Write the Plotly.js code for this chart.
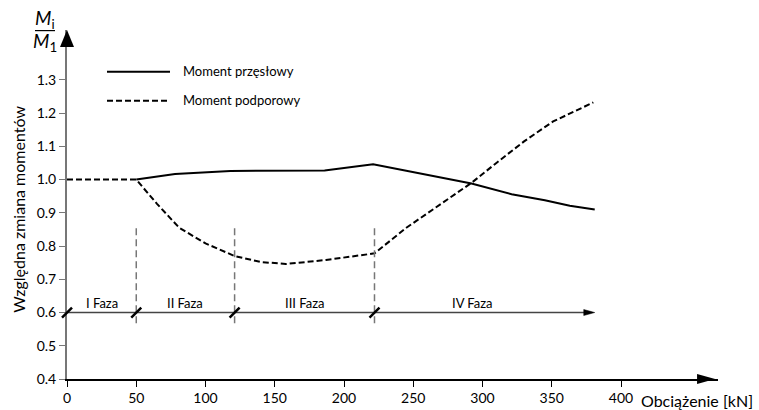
<!DOCTYPE html>
<html>
<head>
<meta charset="utf-8">
<script src="https://cdn.plot.ly/plotly-3.0.1.min.js"></script>
<style>html,body{margin:0;padding:0;background:#fff;}#chart{width:759px;height:410px;}</style>
</head>
<body>
<div id="chart"></div>
<script>
// Data
var spanX = [50, 78, 118, 186, 221, 260, 292, 321, 345, 363, 381];
var spanY = [1.0, 1.017, 1.026, 1.027, 1.046, 1.015, 0.988, 0.956, 0.938, 0.921, 0.910];
var supportX = [0, 50, 65, 81, 100, 121, 140, 158, 187, 222, 245, 270, 292, 310, 330, 351, 366, 380];
var supportY = [1.0, 1.0, 0.927, 0.855, 0.808, 0.770, 0.752, 0.746, 0.758, 0.778, 0.855, 0.927, 0.99, 1.05, 1.115, 1.175, 1.205, 1.232];
var seriesNames = ["Moment przęsłowy", "Moment podporowy"];
var phaseBounds = [0, 50, 121, 222, 381];
var phaseLabels = ["I Faza", "II Faza", "III Faza", "IV Faza"];
var phaseLevel = 0.6;
var xTicks = [0, 50, 100, 150, 200, 250, 300, 350, 400];
var yTicks = [0.4, 0.5, 0.6, 0.7, 0.8, 0.9, 1.0, 1.1, 1.2, 1.3];
var xTitle = "Obciążenie [kN]";
var yTitle = "Względna zmiana momentów";

var FONT = "Lato, Roboto, sans-serif";
var GREY = "#777777";

var traces = [
  {x: spanX, y: spanY, mode: "lines", name: seriesNames[0],
   line: {color: "#000", width: 2}, hoverinfo: "skip"},
  {x: supportX, y: supportY, mode: "lines", name: seriesNames[1],
   line: {color: "#000", width: 2, dash: "6px,3px"}, hoverinfo: "skip"}
];

var shapes = [];
var annotations = [];

// phase boundary dashed verticals
phaseBounds.slice(1, 4).forEach(function (b) {
  shapes.push({type: "line", xref: "x", yref: "y", x0: b, x1: b, y0: 0.568, y1: 0.855,
    line: {color: GREY, width: 1.5, dash: "7px,4px"}});
});
// phase line
shapes.push({type: "line", xref: "x", yref: "y", x0: phaseBounds[0], x1: phaseBounds[4] - 3,
  y0: phaseLevel, y1: phaseLevel, line: {color: "#444", width: 1.5}});
// phase line arrow
shapes.push({type: "path", xref: "x", yref: "y", xsizemode: "pixel", ysizemode: "pixel",
  xanchor: phaseBounds[4], yanchor: phaseLevel, path: "M 0 0 L -11 3 L -11 -3 Z",
  fillcolor: "#000", line: {color: "#000", width: 0.5}});
// slashes
phaseBounds.slice(0, 4).forEach(function (b, i) {
  shapes.push({type: "line", xref: i === 0 ? "paper" : "x", yref: "y", xsizemode: "pixel", ysizemode: "pixel",
    xanchor: i === 0 ? 0 : b, yanchor: phaseLevel, x0: -5, x1: 5, y0: -5, y1: 5,
    line: {color: "#000", width: 2.5}});
});
// phase labels
phaseLabels.forEach(function (t, i) {
  var c = (phaseBounds[i] + phaseBounds[i + 1]) / 2;
  if (i === 3) c = 293;
  annotations.push({x: c, y: phaseLevel, xref: "x", yref: "y", text: t, showarrow: false,
    yanchor: "bottom", yshift: 0, font: {family: FONT, size: 13, color: "#000"}});
});

// axis arrows
shapes.push({type: "path", xref: "paper", yref: "paper", xsizemode: "pixel", ysizemode: "pixel",
  xanchor: 0, yanchor: 1, path: "M 0 0 L -7 -17 L 7 -17 Z", fillcolor: "#000", line: {width: 0}});
shapes.push({type: "path", xref: "paper", yref: "paper", xsizemode: "pixel", ysizemode: "pixel",
  xanchor: 0.9955, yanchor: 0, path: "M 0 0 L -18 5 L -18 -5 Z", fillcolor: "#000", line: {width: 0}});

// legend (manual)
shapes.push({type: "line", xref: "paper", yref: "paper", x0: (107 - 67) / 651, x1: (170 - 67) / 651,
  y0: (379 - 72) / 348.6, y1: (379 - 72) / 348.6, line: {color: "#000", width: 2}});
shapes.push({type: "line", xref: "paper", yref: "paper", x0: (107 - 67) / 651, x1: (170 - 67) / 651,
  y0: (379 - 101) / 348.6, y1: (379 - 101) / 348.6, line: {color: "#000", width: 2, dash: "6px,3px"}});
annotations.push({xref: "paper", yref: "paper", x: (181 - 67) / 651, y: (379 - 71) / 348.6,
  xanchor: "left", yanchor: "middle", text: seriesNames[0], showarrow: false,
  font: {family: FONT, size: 13, color: "#000"}});
annotations.push({xref: "paper", yref: "paper", x: (181 - 67) / 651, y: (379 - 100) / 348.6,
  xanchor: "left", yanchor: "middle", text: seriesNames[1], showarrow: false,
  font: {family: FONT, size: 13, color: "#000"}});

// axis titles
annotations.push({xref: "paper", yref: "paper", x: (755 - 67) / 651, y: (379 - 400) / 348.6,
  xanchor: "right", yanchor: "middle", text: xTitle, showarrow: false,
  font: {family: FONT, size: 16, color: "#000"}});
annotations.push({xref: "paper", yref: "paper", x: (19 - 67) / 651, y: (379 - 210) / 348.6,
  xanchor: "center", yanchor: "middle", textangle: -90, text: yTitle, showarrow: false,
  font: {family: FONT, size: 16, color: "#000"}});
// M_i / M_1 fraction
annotations.push({xref: "paper", yref: "paper", x: (45 - 67) / 651, y: (379 - 19) / 348.6,
  xanchor: "center", yanchor: "middle", text: "<i>M</i><sub>i</sub>", showarrow: false,
  font: {family: FONT, size: 19, color: "#000"}});
annotations.push({xref: "paper", yref: "paper", x: (45 - 67) / 651, y: (379 - 42) / 348.6,
  xanchor: "center", yanchor: "middle", text: "<i>M</i><sub>1</sub>", showarrow: false,
  font: {family: FONT, size: 19, color: "#000"}});
shapes.push({type: "line", xref: "paper", yref: "paper", x0: (35 - 67) / 651, x1: (55 - 67) / 651,
  y0: (379 - 31) / 348.6, y1: (379 - 31) / 348.6, line: {color: "#000", width: 1.2}});

var layout = {
  width: 759, height: 410,
  margin: {l: 67, r: 41, t: 30.4, b: 31, pad: 0},
  paper_bgcolor: "#fff", plot_bgcolor: "#fff",
  showlegend: false,
  hovermode: false,
  font: {family: FONT, size: 13, color: "#000"},
  xaxis: {range: [0, 470], tickvals: xTicks, ticktext: xTicks.map(String),
    showgrid: false, zeroline: false, showline: true, linecolor: "#000", linewidth: 1.5,
    ticks: "outside", ticklen: 6, tickcolor: "#000", tickwidth: 1,
    tickfont: {family: FONT, size: 14, color: "#000"}},
  yaxis: {range: [0.4, 1.45], tickvals: yTicks, ticktext: yTicks.map(function (v) { return v.toFixed(1); }),
    showgrid: false, zeroline: false, showline: true, linecolor: GREY, linewidth: 2,
    ticks: "outside", ticklen: 6, tickcolor: GREY, tickwidth: 1,
    tickfont: {family: FONT, size: 14, color: "#000"}},
  shapes: shapes,
  annotations: annotations
};

Plotly.newPlot("chart", traces, layout, {displayModeBar: false, staticPlot: true});
</script>
</body>
</html>
